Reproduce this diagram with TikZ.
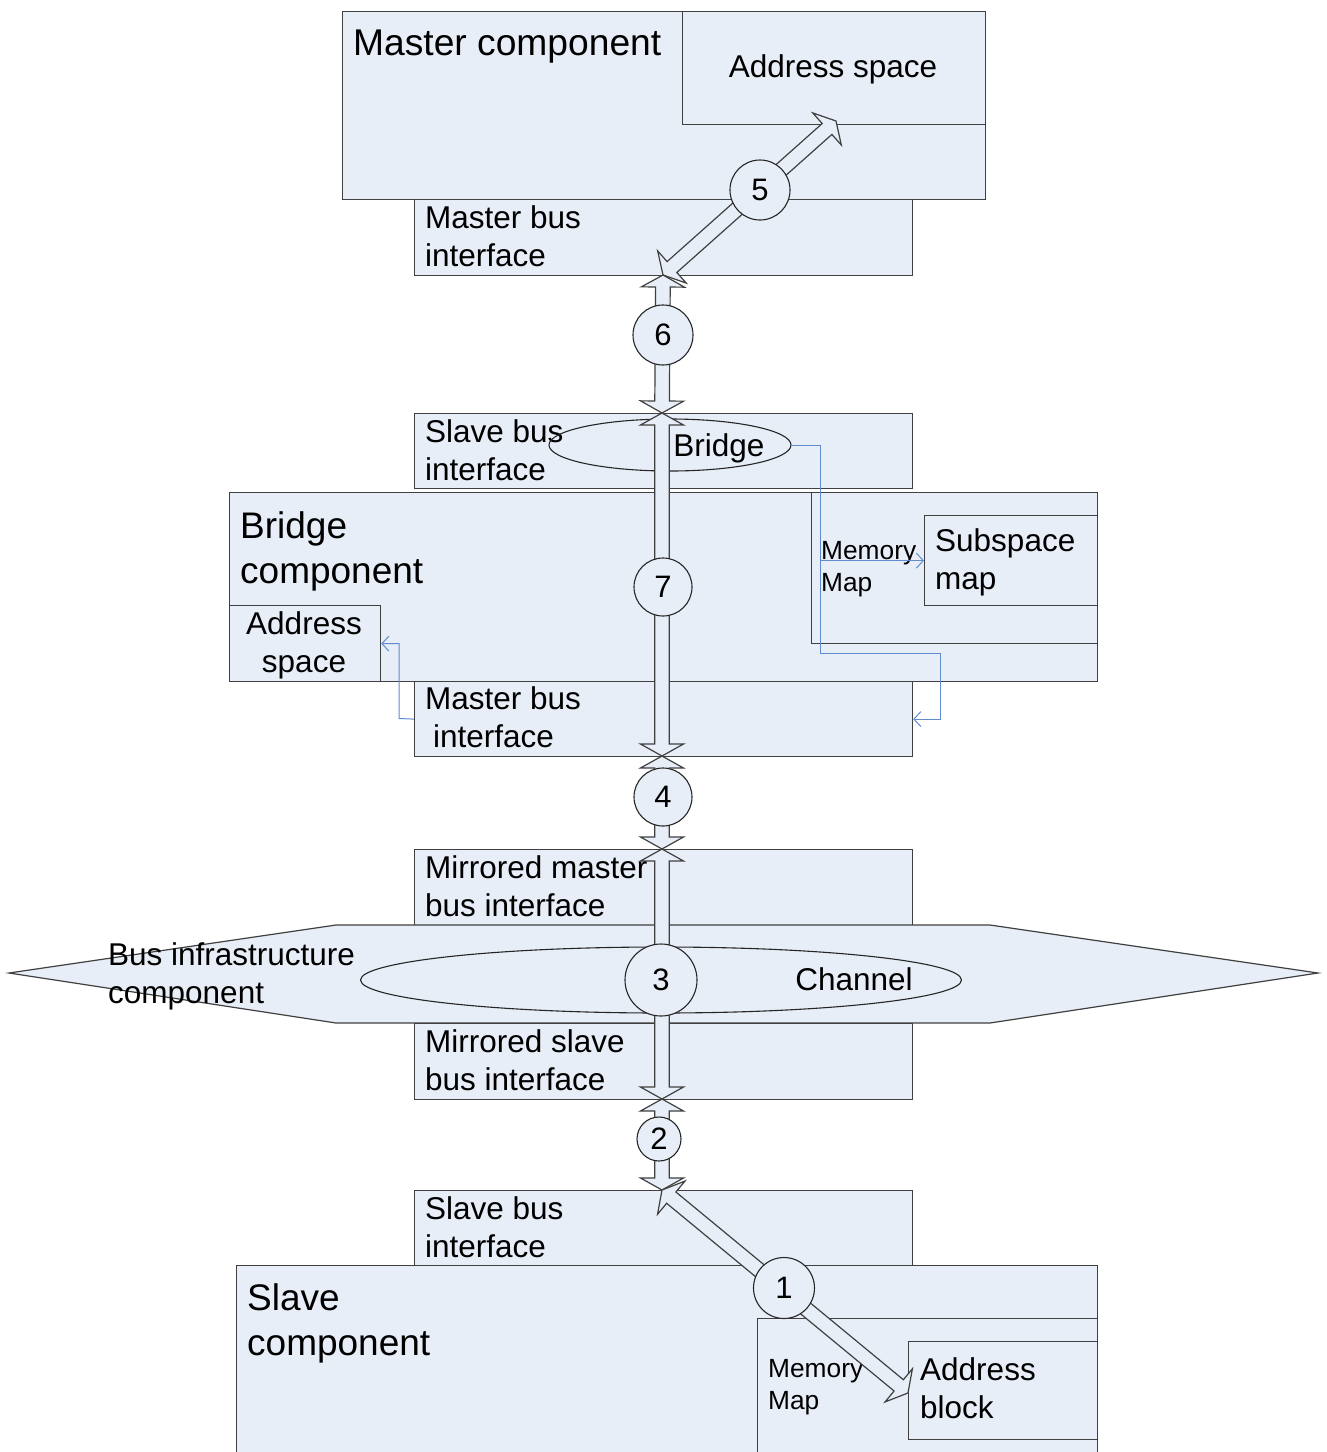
\documentclass[tikz,border=0pt]{standalone}
\usepackage{fontspec}
\setmainfont{Liberation Sans}
\usetikzlibrary{shapes.geometric,arrows.meta}

\definecolor{boxfill}{RGB}{232,238,247}
\definecolor{boxline}{RGB}{64,64,64}
\definecolor{linkblue}{RGB}{96,140,208}

\tikzset{
  box/.style={rectangle, draw=boxline, fill=boxfill, line width=1.2pt,
    inner sep=0pt, anchor=north west},
  hollow/.style={draw=boxline, fill=boxfill, line width=1.2pt, line join=miter},
  lbl/.style={inner sep=0pt, anchor=north west, align=left,
    font=\fontsize{31.5}{38}\selectfont},
  biglbl/.style={inner sep=0pt, anchor=north west, align=left,
    font=\fontsize{37}{45}\selectfont},
  smalllbl/.style={inner sep=0pt, anchor=north west, align=left,
    font=\fontsize{26.3}{32}\selectfont},
  numcirc/.style={circle, draw=black!85, fill=boxfill, line width=1.1pt,
    inner sep=0pt, font=\fontsize{31}{37}\selectfont},
  oval/.style={ellipse, draw=black!85, line width=1.1pt, inner sep=0pt},
  link/.style={draw=linkblue, line width=1pt,
    -{Straight Barb[length=7pt,width=15pt]}},
}

% Double-headed hollow block arrow between two named points
\newcommand\hollowarrow[2]{%
  \path (#1); \pgfgetlastxy{\hax}{\hay}%
  \path (#2); \pgfgetlastxy{\hbx}{\hby}%
  \pgfmathsetmacro\haang{atan2(\hby-\hay,\hbx-\hax)}%
  \pgfmathsetmacro\halen{veclen(\hbx-\hax,\hby-\hay)}%
  \pgfmathsetmacro\haend{\halen-12}%
  \begin{scope}[shift={(\hax,\hay)},rotate=\haang]
    \draw[hollow] (0pt,0pt) -- (12pt,21.5pt) -- (12pt,7.3pt)
      -- (\haend pt,7.3pt) -- (\haend pt,21.5pt) -- (\halen pt,0pt)
      -- (\haend pt,-21.5pt) -- (\haend pt,-7.3pt) -- (12pt,-7.3pt)
      -- (12pt,-21.5pt) -- cycle;
  \end{scope}}

\begin{document}
\begin{tikzpicture}[x=1pt,y=-1pt]
\useasboundingbox (0,0) rectangle (1327,1452);
\clip (0,0) rectangle (1327,1452);

% ---- master component ----
\node[box, minimum width=643pt, minimum height=188pt] (mc) at (342,11) {};
\node[box, minimum width=303pt, minimum height=113pt] (masp) at (682,11) {};
\node[box, minimum width=498pt, minimum height=76pt] (mbi) at (414,199) {};
\node[inner sep=0pt, anchor=base west, font=\fontsize{37.2}{45}\selectfont]
  (mctxt) at (353,55) {Master component};
\node[inner sep=0pt, anchor=base, font=\fontsize{31.5}{38}\selectfont]
  (masptxt) at (833,77) {Address space};
\node[lbl] (mbitxt) at (425,205) {Master bus\\interface};

% ---- bridge component ----
\node[box, minimum width=498pt, minimum height=75pt] (bsbi) at (414,413) {};
\node[lbl] (bsbitxt) at (425,419) {Slave bus\\interface};
\node[box, minimum width=868pt, minimum height=189pt] (bc) at (229,492) {};
\node[biglbl] (bctxt) at (240,511) {Bridge\\component};
\node[box, minimum width=286pt, minimum height=151pt] (bmm) at (811,492) {};
\node[smalllbl] (bmmtxt) at (821,541) {Memory\\Map};
\node[box, minimum width=173pt, minimum height=90pt] (bssm) at (924,515) {};
\node[lbl] (bssmtxt) at (935,528) {Subspace\\map};
\node[box, minimum width=151pt, minimum height=76pt] (basp) at (229,605) {};
\node[lbl, anchor=north, align=center] (basptxt) at (304,611) {Address\\space};
\node[box, minimum width=498pt, minimum height=75pt] (bmbi) at (414,681) {};
\node[lbl] (bmbitxt) at (425,686) {Master bus\\\hspace*{8pt}interface};

% ---- bus infrastructure component ----
\node[box, minimum width=498pt, minimum height=76pt] (mmbi) at (414,849) {};
\node[lbl] (mmbitxt) at (425,855) {Mirrored master\\bus interface};
\draw[hollow] (9,973) -- (336,925) -- (990,925) -- (1318,973)
  -- (990,1023) -- (336,1023) -- cycle;
\node[lbl] (bictxt) at (108,942) {Bus infrastructure\\component};
\node[box, minimum width=498pt, minimum height=76pt] (msbi) at (414,1023) {};
\node[lbl] (msbitxt) at (425,1029) {Mirrored slave\\bus interface};

% ---- slave component ----
\node[box, minimum width=498pt, minimum height=75pt] (ssbi) at (414,1190) {};
\node[lbl] (ssbitxt) at (425,1196) {Slave bus\\interface};
\node[box, minimum width=861pt, minimum height=215pt] (sc) at (236,1265) {};
\node[biglbl] (sctxt) at (247,1283) {Slave\\component};
\node[box, minimum width=340pt, minimum height=162pt] (smm) at (757,1318) {};
\node[smalllbl] (smmtxt) at (768,1359) {Memory\\Map};
\node[box, minimum width=189pt, minimum height=98pt] (sab) at (908,1341) {};
\node[lbl] (sabtxt) at (920,1357) {Address\\block};

% ---- bridge and channel ----
\node[oval, minimum width=242pt, minimum height=52pt] (brell) at (670,445) {};
\node[inner sep=0pt, anchor=base, font=\fontsize{31.5}{38}\selectfont]
  (brtxt) at (719,456) {Bridge};
\node[oval, minimum width=601pt, minimum height=66pt] (chell) at (661,980) {};
\node[inner sep=0pt, anchor=base, font=\fontsize{31.5}{38}\selectfont]
  (chtxt) at (854,990) {Channel};

% ---- bridge mapping links ----
\coordinate (lk1) at (820,653);
\coordinate (lk2) at (940,653);
\coordinate (lk3) at (399,718.5);
\draw[link] (brell.east) -| (lk1 |- bssm.west) -- (bssm.west);
\draw[link] (brell.east) -| (lk1) -- (lk2) |- (bmbi.east);
\draw[link] (bmbi.west) -- (lk3) |- (basp.east);

% ---- transaction path ----
\coordinate (j0) at (836,121);
\coordinate (j1) at (663,275);
\coordinate (j2) at (662,413);
\coordinate (j3) at (662,756);
\coordinate (j4) at (662,849);
\coordinate (j5) at (662,1099);
\coordinate (j6) at (662,1190);
\coordinate (j7) at (908,1393);
\hollowarrow{j1}{j0}
\hollowarrow{j1}{j2}
\hollowarrow{j2}{j3}
\hollowarrow{j3}{j4}
\hollowarrow{j4}{j5}
\hollowarrow{j5}{j6}
\hollowarrow{j6}{j7}

\node[numcirc, minimum size=60pt] (n5) at (760,190) {5};
\node[numcirc, minimum size=60pt] (n6) at (663,335) {6};
\node[numcirc, minimum size=58pt] (n7) at (663,587) {7};
\node[numcirc, minimum size=58pt] (n4) at (663,797) {4};
\node[numcirc, minimum size=72pt] (n3) at (661,980) {3};
\node[numcirc, minimum size=44pt] (n2) at (659,1139) {2};
\node[numcirc, minimum size=61pt] (n1) at (784,1288) {1};

\end{tikzpicture}
\end{document}
